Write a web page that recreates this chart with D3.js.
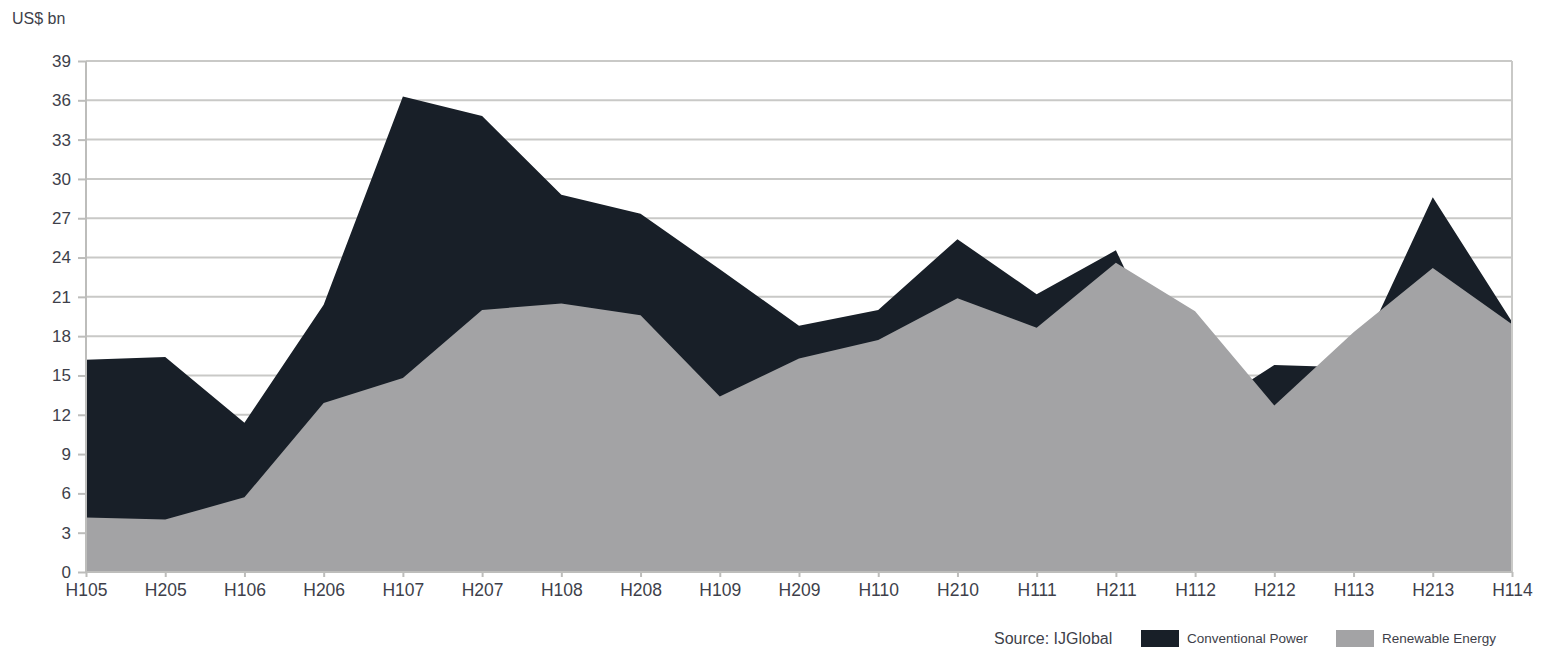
<!DOCTYPE html>
<html>
<head>
<meta charset="utf-8">
<script src="https://cdn.jsdelivr.net/npm/d3@7"></script>
<style>
  body { margin: 0; background: #fff; }
  text { font-family: "Liberation Sans", Arial, sans-serif; fill: #3e3f4a; }
</style>
</head>
<body>
<script>
// half-year periods
var periods = ["H105","H205","H106","H206","H107","H207","H108","H208","H109","H209",
               "H110","H210","H111","H211","H112","H212","H113","H213","H114"];

// US$ bn (areas overlap, dark one drawn behind)
var conventional = [16.2, 16.4, 11.4, 20.4, 36.3, 34.8, 28.8, 27.35, 23.1, 18.8,
                    20.0, 25.4, 21.2, 24.55, 11.9, 15.8, 15.6, 28.6, 19.1];
var renewable = [4.15, 4.0, 5.7, 12.9, 14.8, 20.0, 20.5, 19.6, 13.4, 16.3,
                 17.7, 20.9, 18.65, 23.6, 19.9, 12.7, 18.3, 23.2, 18.9];

var yTicks = [0, 3, 6, 9, 12, 15, 18, 21, 24, 27, 30, 33, 36, 39];

var seriesNames = ["Conventional Power", "Renewable Energy"];
var colors = ["#181f28", "#a3a3a5"];

// set the dimensions and margins of the graph
var W = 1542, H = 647;
var margin = {top: 61, right: 30, bottom: 75, left: 86},
    width = W - margin.left - margin.right,
    height = H - margin.top - margin.bottom;

var svg = d3.select("body").append("svg")
    .attr("width", W)
    .attr("height", H);

var g = svg.append("g")
    .attr("transform", "translate(" + margin.left + "," + margin.top + ")");

// set the ranges
var x = d3.scalePoint().domain(periods).range([0, width]).padding(0);
var y = d3.scaleLinear().domain([0, 39]).range([height, 0]);

// gridlines
g.append("g")
    .selectAll("line")
    .data(yTicks)
  .enter().append("line")
    .attr("x1", 0)
    .attr("x2", width)
    .attr("y1", function(d) { return y(d); })
    .attr("y2", function(d) { return y(d); })
    .style("stroke", "#c9c9c7")
    .style("stroke-width", 2);

// areas
var area = function(vals) {
  return d3.area()
    .x(function(d, i) { return x(periods[i]); })
    .y0(y(0))
    .y1(function(d) { return y(d); })(vals);
};

g.append("path")
    .attr("d", area(conventional))
    .style("fill", colors[0]);

g.append("path")
    .attr("d", area(renewable))
    .style("fill", colors[1]);

// right border
g.append("line")
    .attr("x1", width).attr("x2", width)
    .attr("y1", 0).attr("y2", height)
    .style("stroke", "#c9c9c7")
    .style("stroke-width", 2);

// Y axis
var yAxis = g.append("g")
    .call(d3.axisLeft(y).tickValues(yTicks).tickSize(8).tickPadding(7));
yAxis.selectAll("line, path").style("stroke", "#bdbdbb").style("stroke-width", 2);
yAxis.select(".domain").attr("d", "M0," + height + "V0");
yAxis.selectAll("text").style("font-size", "17px").style("font-family", null).style("fill", null);

// X axis
var xAxis = g.append("g")
    .attr("transform", "translate(0," + height + ")")
    .call(d3.axisBottom(x).tickSize(5).tickPadding(7));
xAxis.selectAll("line, path").style("stroke", "#bdbdbb").style("stroke-width", 2);
xAxis.select(".domain").attr("d", "M0,0H" + width);
xAxis.selectAll("text").style("font-size", "17.5px").style("font-family", null).style("fill", null);

// unit label
svg.append("text")
    .attr("x", 12)
    .attr("y", 24)
    .style("font-size", "16px")
    .text("US$ bn");

// source + legend
svg.append("text")
    .attr("x", 994)
    .attr("y", 644)
    .style("font-size", "16px")
    .text("Source: IJGlobal");

var legendX = [1141, 1336];
var legend = svg.selectAll(".legend")
    .data(seriesNames)
  .enter().append("g")
    .attr("class", "legend")
    .attr("transform", function(d, i) { return "translate(" + legendX[i] + ",630)"; });

legend.append("rect")
    .attr("width", 38)
    .attr("height", 17)
    .style("fill", function(d, i) { return colors[i]; });

legend.append("text")
    .attr("x", 46)
    .attr("y", 13)
    .style("font-size", "13.5px")
    .text(function(d) { return d; });
</script>
</body>
</html>
